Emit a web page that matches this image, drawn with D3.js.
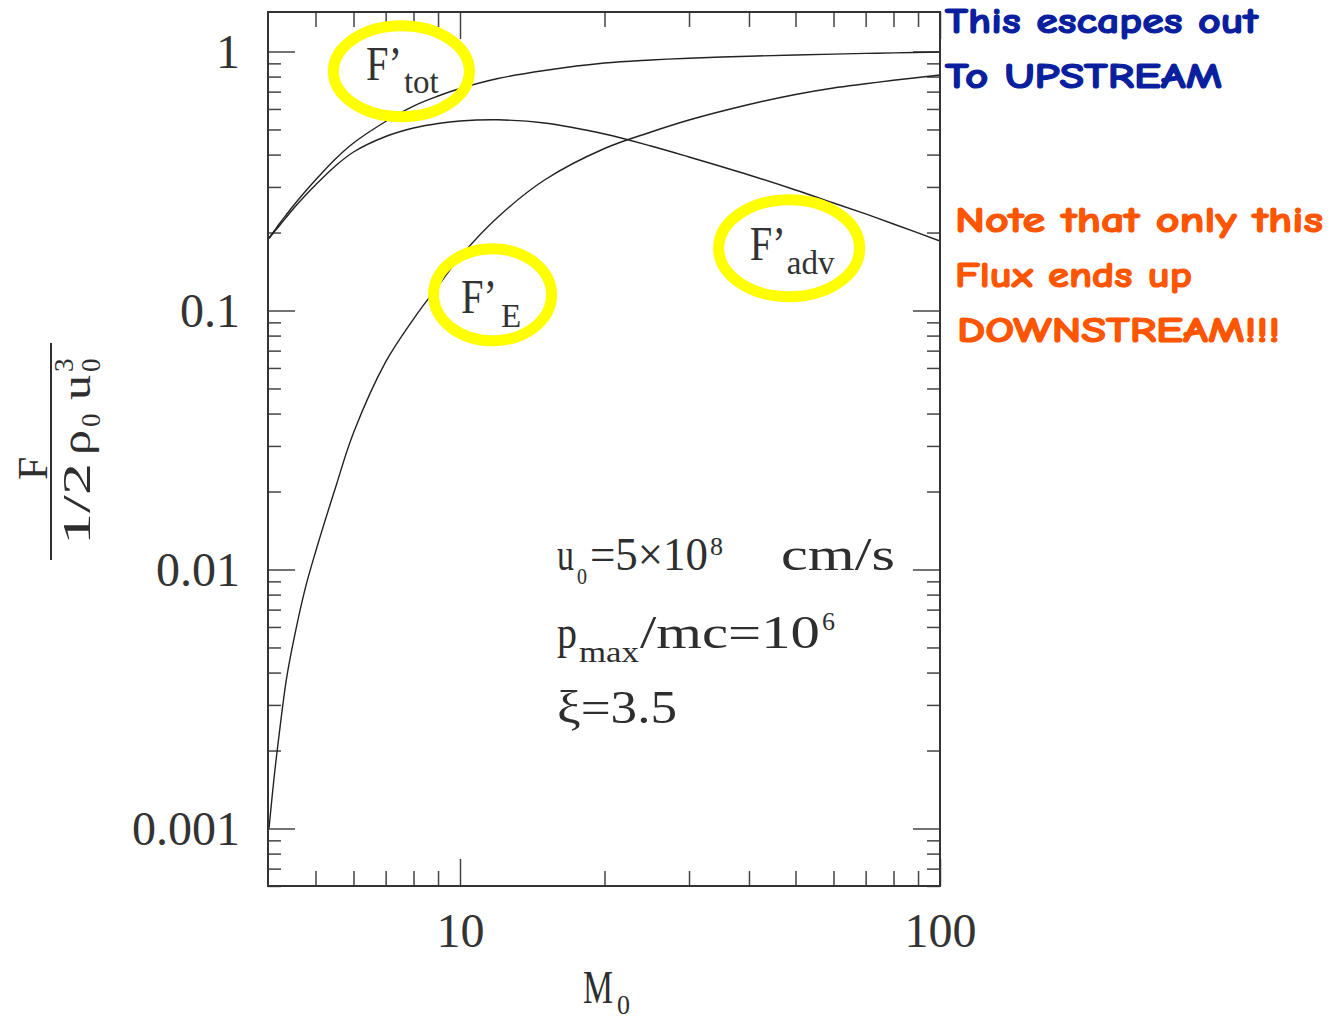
<!DOCTYPE html>
<html>
<head>
<meta charset="utf-8">
<script src="https://cdn.jsdelivr.net/npm/d3@7/dist/d3.min.js"></script>
<style>
  html, body { margin: 0; padding: 0; background: #fff; }
  svg { display: block; }
</style>
</head>
<body>
<svg id="chart" width="1333" height="1021"></svg>
<script>
// Mach number grid (M0) and the three normalised energy fluxes
const mach = [4, 4.1, 4.2, 4.35, 4.5, 4.75, 5, 5.5, 6, 7, 8, 9, 10, 12, 15, 20, 25, 30, 40, 50, 60, 70, 80, 100];
const fluxTot = [0.1905, 0.2027, 0.2158, 0.2348, 0.2543, 0.2868, 0.3190, 0.3845, 0.4433, 0.5367, 0.6159, 0.6732, 0.7197, 0.7867, 0.8446, 0.9029, 0.9273, 0.9422, 0.9591, 0.9694, 0.9772, 0.9833, 0.9876, 0.9956];
const fluxAdv = [0.1897, 0.2009, 0.2120, 0.2296, 0.2476, 0.2768, 0.3051, 0.3613, 0.4093, 0.4696, 0.5066, 0.5272, 0.5391, 0.5448, 0.5296, 0.4802, 0.4316, 0.3915, 0.3336, 0.2919, 0.2600, 0.2359, 0.2158, 0.1854];
const fluxE = [0.00100, 0.00158, 0.00231, 0.00378, 0.00530, 0.00833, 0.01168, 0.02064, 0.0337, 0.0633, 0.0927, 0.1243, 0.1609, 0.2296, 0.3190, 0.4221, 0.4887, 0.5438, 0.6242, 0.6823, 0.7230, 0.7503, 0.7741, 0.8115];

// Axis ticks
const xMajor = [10, 100];
const xTickLabels = ["10", "100"];
const xMinor = [5, 6, 7, 8, 9, 20, 30, 40, 50, 60, 70, 80, 90];
const yMajor = [0.001, 0.01, 0.1, 1];
const yTickLabels = ["0.001", "0.01", "0.1", "1"];
const yMinor = [];
[0.0001, 0.001, 0.01, 0.1].forEach(dec => { for (let k = 2; k <= 9; k++) yMinor.push(+(k * dec).toPrecision(3)); });

// Circled curve labels: anchor in data coordinates
const callouts = [
  { sub: "tot", m: 7.55, v: 0.839 },
  { sub: "E",   m: 11.69, v: 0.115 },
  { sub: "adv", m: 48.5, v: 0.174 }
];

const L = 268, R = 940, T = 12, B = 886;
const serif = "'Liberation Serif', 'Times New Roman', serif";
const ink = "#2e2e2e";

const svg = d3.select("#chart");
svg.append("rect").attr("width", 1333).attr("height", 1021).attr("fill", "#fff");

const x = d3.scaleLog().domain([Math.pow(10, 0.6), 100]).range([L, R]);
const y = d3.scaleLog().domain([Math.pow(10, -3.222), Math.pow(10, 0.1525)]).range([B, T]);

// ---- ticks (all pointing into the frame) ----
function styleAxis(g) {
  g.select(".domain").remove();
  g.selectAll(".tick line").attr("stroke", "#444").attr("stroke-width", 1.5);
  g.selectAll(".tick text").attr("fill", "#333").attr("font-family", serif).attr("font-size", 48);
}
svg.append("g").attr("transform", `translate(0,${B})`)
  .call(d3.axisBottom(x).tickValues(xMajor).tickSize(-27).tickPadding(27).tickFormat((d, i) => xTickLabels[i]))
  .call(styleAxis);
svg.append("g").attr("transform", `translate(0,${B})`)
  .call(d3.axisBottom(x).tickValues(xMinor).tickSize(-15).tickFormat(""))
  .call(styleAxis);
svg.append("g").attr("transform", `translate(0,${T})`)
  .call(d3.axisTop(x).tickValues(xMajor).tickSize(-27).tickFormat(""))
  .call(styleAxis);
svg.append("g").attr("transform", `translate(0,${T})`)
  .call(d3.axisTop(x).tickValues(xMinor).tickSize(-15).tickFormat(""))
  .call(styleAxis);

const yMinorIn = yMinor.filter(v => v >= y.domain()[0] && v <= y.domain()[1]);
svg.append("g").attr("transform", `translate(${L},0)`)
  .call(d3.axisLeft(y).tickValues(yMajor).tickSize(-27).tickPadding(28).tickFormat((d, i) => yTickLabels[i]))
  .call(styleAxis)
  .call(g => g.selectAll(".tick text").attr("dy", "0.33em"));
svg.append("g").attr("transform", `translate(${L},0)`)
  .call(d3.axisLeft(y).tickValues(yMinorIn).tickSize(-13).tickFormat(""))
  .call(styleAxis);
svg.append("g").attr("transform", `translate(${R},0)`)
  .call(d3.axisRight(y).tickValues(yMajor).tickSize(-27).tickFormat(""))
  .call(styleAxis);
svg.append("g").attr("transform", `translate(${R},0)`)
  .call(d3.axisRight(y).tickValues(yMinorIn).tickSize(-13).tickFormat(""))
  .call(styleAxis);

// ---- curves ----
svg.append("clipPath").attr("id", "plot-clip")
  .append("rect").attr("x", L).attr("y", T).attr("width", R - L).attr("height", B - T);

const line = d3.line().x(d => x(d[0])).y(d => y(d[1])).curve(d3.curveCatmullRom.alpha(0.5));
[fluxTot, fluxAdv, fluxE].forEach(series => {
  svg.append("path")
    .attr("clip-path", "url(#plot-clip)")
    .attr("d", line(mach.map((m, i) => [m, series[i]])))
    .attr("fill", "none").attr("stroke", "#222").attr("stroke-width", 1.4);
});

// ---- frame ----
svg.append("rect").attr("x", L).attr("y", T).attr("width", R - L).attr("height", B - T)
  .attr("fill", "none").attr("stroke", "#333").attr("stroke-width", 2);

// ---- text helper ----
function seg(parent, px, py, str, size, len, anchor) {
  const t = parent.append("text").attr("x", px).attr("y", py)
    .attr("font-family", serif).attr("font-size", size).attr("fill", ink).text(str);
  if (len) t.attr("textLength", len).attr("lengthAdjust", "spacingAndGlyphs");
  if (anchor) t.attr("text-anchor", anchor);
  return t;
}

// ---- parameter block ----
const par = svg.append("g");
seg(par, 557, 570, "u", 46, 17);
seg(par, 577, 584, "0", 24, 10);
seg(par, 590, 570, "=5×10", 46, 118);
seg(par, 710, 555, "8", 26);
seg(par, 781, 570, "cm/s", 46, 114);
seg(par, 557, 648, "p", 46, 20);
seg(par, 579, 662, "max", 30, 60);
seg(par, 640, 648, "/mc=10", 46, 180);
seg(par, 822, 630, "6", 26);
seg(par, 557, 723, "ξ=3.5", 46, 120);

// ---- axis titles ----
const xt = svg.append("g");
seg(xt, 583, 1003, "M", 46, 30);
seg(xt, 617, 1014, "0", 28, 13);

const yt = svg.append("g").attr("transform", "translate(90,451) rotate(-90)");
seg(yt, -29, -43, "F", 42);
yt.append("line").attr("x1", -109).attr("x2", 108).attr("y1", -39).attr("y2", -39)
  .attr("stroke", ink).attr("stroke-width", 2);
seg(yt, -94, 0, "1/2", 40, 82);
seg(yt, -4, 0, "ρ", 40, 25);
seg(yt, 24, 10, "0", 27);
seg(yt, 51, 0, "u", 40, 25);
seg(yt, 79, -17, "3", 27);
seg(yt, 79, 10, "0", 27);

// ---- circled curve labels ----
const rings = {
  tot: { rx: 68, ry: 45.5, fx: -35.5, fy: 8.7, sx: 2.5, sy: 21.7 },
  E:   { rx: 59, ry: 46,   fx: -31.5, fy: 18.3, sx: 8.5, sy: 32.3 },
  adv: { rx: 70.5, ry: 48.5, fx: -39.3, fy: 12, sx: -2.3, sy: 26 }
};
callouts.forEach(c => {
  const cx = x(c.m), cy = y(c.v), r = rings[c.sub];
  svg.append("ellipse").attr("cx", cx).attr("cy", cy).attr("rx", r.rx).attr("ry", r.ry)
    .attr("fill", "none").attr("stroke", "#ffff00").attr("stroke-width", 11);
  seg(svg, cx + r.fx, cy + r.fy, "F’", 48, 36).attr("fill", "#333");
  seg(svg, cx + r.sx, cy + r.sy, c.sub, 33).attr("fill", "#333");
});

// ---- side notes ----
const notes = [
  { text: "This escapes out", x0: 945, base: 33, len: 313, color: "#0a1f9e" },
  { text: "To UPSTREAM", x0: 945, base: 88, len: 277, color: "#0a1f9e" },
  { text: "Note that only this", x0: 955, base: 232, len: 368, color: "#ff5500" },
  { text: "Flux ends up", x0: 955, base: 287, len: 237, color: "#ff5500" },
  { text: "DOWNSTREAM!!!", x0: 957, base: 342, len: 323, color: "#ff5500" }
];
notes.forEach(n => {
  svg.append("text").attr("x", n.x0).attr("y", n.base)
    .attr("font-family", "'Comic Sans MS', 'Comic Neue', 'DejaVu Sans', sans-serif")
    .attr("font-weight", "bold").attr("font-size", 36).attr("fill", n.color)
    .attr("stroke", n.color).attr("stroke-width", 1.2).attr("stroke-linejoin", "round")
    .attr("textLength", n.len).attr("lengthAdjust", "spacingAndGlyphs")
    .text(n.text);
});
</script>
</body>
</html>
